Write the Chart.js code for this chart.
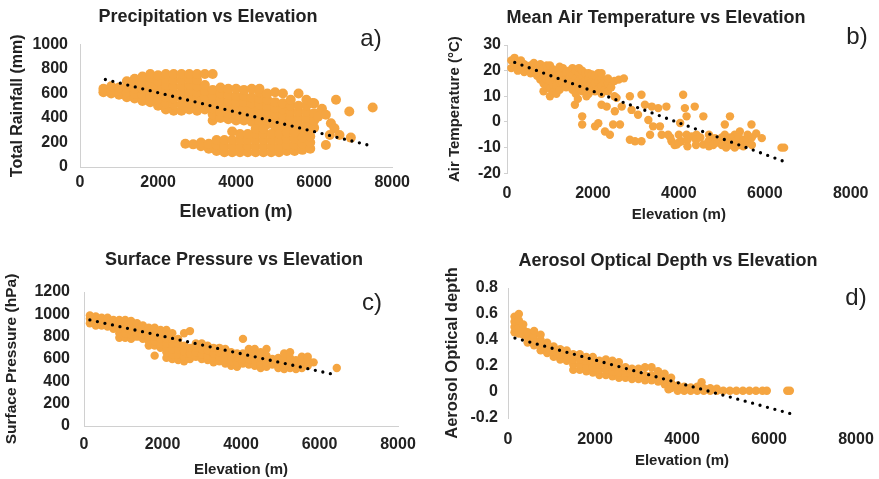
<!DOCTYPE html>
<html>
<head>
<meta charset="utf-8">
<script src="https://cdn.jsdelivr.net/npm/chart.js@4.4.1/dist/chart.umd.min.js"></script>
<style>
  html, body { margin: 0; padding: 0; background: #fff; overflow: hidden; }
  body { width: 879px; height: 479px; position: relative; }
  canvas { position: absolute; }
  .tag { position: absolute; transform: translate(-50%, -50%); font: 24px 'Liberation Sans', Arial, sans-serif; color: #222; }
</style>
</head>
<body>
<canvas id="chartA" width="416" height="240" style="left:0;top:0"></canvas>
<canvas id="chartB" width="446" height="240" style="left:433px;top:0"></canvas>
<canvas id="chartC" width="468" height="239" style="left:0;top:240px"></canvas>
<canvas id="chartD" width="456" height="239" style="left:440px;top:240px"></canvas>
<div class="tag" style="left:371px;top:38px">a)</div>
<div class="tag" style="left:857px;top:36px">b)</div>
<div class="tag" style="left:372px;top:302px">c)</div>
<div class="tag" style="left:856px;top:297px">d)</div>
<script>
// tick values
const elevTicks  = [0, 2000, 4000, 6000, 8000]
const rainTicks  = [0, 200, 400, 600, 800, 1000]
const tempTicks  = [-20, -10, 0, 10, 20, 30]
const presTicks  = [0, 200, 400, 600, 800, 1000, 1200]
const aodTicks   = [-0.2, 0, 0.2, 0.4, 0.6, 0.8]

// each row: [elevation, value, value, ...]
const rainCols = [
  [600, 610, 640], [800, 600, 630, 660], [1000, 590, 620, 650],
  [1200, 570, 610, 650, 700], [1400, 560, 600, 640, 680, 720],
  [1600, 540, 590, 640, 690, 740], [1800, 530, 580, 630, 680, 730, 760],
  [2000, 500, 550, 600, 650, 700, 750], [2200, 470, 520, 570, 620, 670, 720, 760],
  [2400, 460, 510, 560, 610, 660, 710, 760], [2600, 460, 510, 560, 610, 660, 710, 760],
  [2800, 470, 520, 570, 620, 670, 720, 760], [3000, 460, 510, 560, 610, 660, 710, 760],
  [3200, 470, 520, 570, 620, 670, 760], [3400, 380, 430, 480, 530, 580, 630, 760],
  [3600, 400, 450, 500, 550, 600, 650], [3800, 390, 440, 490, 540, 590, 640],
  [4000, 380, 430, 480, 530, 580, 640], [4200, 380, 430, 480, 530, 580, 630],
  [4400, 370, 420, 470, 520, 570, 640], [4600, 360, 410, 460, 510, 560, 610, 640],
  [4800, 350, 400, 450, 500, 550, 600], [5000, 330, 380, 430, 480, 530, 610],
  [5200, 320, 370, 420, 470, 520, 600], [5400, 300, 350, 400, 450, 500, 550],
  [5600, 300, 350, 400, 450, 500, 600], [5800, 300, 350, 400, 450, 500, 550],
  [6000, 320, 380, 440, 520],
  [2700, 190], [2900, 185], [3100, 170, 200], [3300, 150, 190], [3500, 130, 180, 220],
  [3700, 120, 170, 220], [3900, 120, 170, 220, 290], [4100, 120, 170, 220, 270],
  [4300, 120, 170, 220, 270], [4500, 120, 170, 220, 270, 310], [4700, 120, 170, 220, 270, 310],
  [4900, 120, 170, 220, 270], [5100, 120, 170, 220, 270], [5300, 130, 180, 230, 280],
  [5500, 130, 180, 230, 280], [5700, 140, 190, 240], [5900, 150, 200, 250],
  [5960, 522], [6100, 410], [6200, 475], [6300, 427, 180], [6400, 262], [6430, 358],
  [6520, 317], [6560, 549], [6650, 262], [6900, 454], [6940, 240], [7500, 486]
]
const rainTrend = [[650, 715], [7500, 170]]

const tempCols = [
  [100, 21, 24], [175, 22.5, 25], [250, 20, 23], [325, 21.5, 24], [400, 19.5, 22.5],
  [475, 21], [550, 19, 22], [625, 20.5, 23], [700, 18, 21], [775, 16.5, 19.5, 22.5],
  [850, 12, 15, 18, 21], [925, 13.5, 16.5, 19.5, 22], [1000, 10, 13, 16, 19, 22],
  [1075, 11.5, 14.5, 17.5, 20.5], [1150, 11, 14, 17, 20], [1225, 12.5, 15.5, 18.5, 21.5],
  [1300, 15, 18, 21], [1375, 13.5, 16.5, 19.5], [1450, 14, 17, 20],
  [1525, 12.5, 15.5, 18.5, 21], [1600, 11, 14, 17, 20], [1675, 13, 16, 19, 21],
  [1750, 12, 15, 18, 20], [1825, 13, 16, 19], [1900, 11, 14, 17, 19], [1975, 12.5, 15.5, 18.5],
  [2050, 12, 15, 18], [2125, 13, 16, 19], [2200, 11, 14, 17, 19], [2275, 12.5, 15.5],
  [2350, 12, 15, 17], [2425, 13.5], [2500, 10, 16],
  [2600, 16.5], [2720, 17], [1650, 9], [1850, 10],
  [1580, 6.7], [1750, 2.2, -1], [2050, -1.7], [2125, -0.5], [2280, -3.7], [2395, -5],
  [2470, -1], [2510, 4.2], [2200, 6.7], [2320, 6], [2670, 6], [2550, 9.4], [2860, 10, -6.9],
  [3130, 10.6, -7.5], [2900, 4.7], [2630, -1], [2980, -7.5], [3050, 2.8], [3210, 6.7],
  [3370, 6], [3520, 5.4], [3710, 6], [3290, 0.8], [3400, -1.7], [3560, -1.7], [3330, -5],
  [3600, -5], [3750, -5], [3830, -7.5], [3950, -8.8], [4060, -7.5], [4180, -5, 2.2],
  [4300, -5.6], [4410, -5], [4570, -8.8, 2.2], [4690, -7.5], [4840, -6.3], [4100, 10.6],
  [4140, 5.4], [4370, 6], [4030, -0.4], [5070, -1, -5], [5190, 2.2], [5300, -5],
  [5420, -3.7], [5690, -1], [5930, -6.3], [6390, -10], [6450, -10],
  [3800, -6], [3900, -9], [4000, -5, -8], [4200, -7, -9.5], [4400, -7, -9], [4500, -6],
  [4700, -5, -9.5], [4800, -9], [4900, -8], [5000, -6, -9], [5100, -7.5, -10], [5200, -6, -9],
  [5300, -7.5, -10], [5400, -6, -9], [5500, -7, -9.5], [5600, -5, -8], [5700, -6, -9], [5800, -4.5]
]
const tempTrend = [[180, 23.2], [6420, -15.2]]

const presCols = [
  [150, 920, 960, 990], [300, 900, 940, 980], [450, 900, 940, 970], [600, 890, 930, 970],
  [750, 870, 910, 950], [900, 790, 830, 870, 910, 950], [1050, 790, 830, 870, 910, 950],
  [1200, 780, 820, 860, 900, 940], [1350, 800, 840, 880, 920], [1500, 780, 820, 860, 900],
  [1650, 720, 760, 800, 840, 880], [1800, 630, 720, 760, 800, 840, 880],
  [1950, 700, 740, 780, 820, 860], [2100, 610, 660, 700, 740, 780, 820, 860],
  [2250, 600, 640, 690, 740, 780, 830], [2400, 590, 640, 690, 740, 780],
  [2550, 580, 620, 670, 720, 830], [2700, 600, 650, 700, 850], [2850, 620, 660, 700, 740],
  [3000, 600, 640, 690, 740], [3150, 590, 630, 680, 720], [3300, 570, 610, 650, 700],
  [3450, 580, 620, 660, 700], [3600, 560, 600, 640, 690], [3750, 540, 580, 620, 660],
  [3900, 530, 570, 610, 650], [4050, 560, 600, 650, 780], [4200, 550, 600, 640, 690],
  [4350, 540, 590, 640, 690], [4500, 520, 560, 610, 660], [4650, 530, 570, 630, 690],
  [4800, 550, 600], [4950, 520, 560, 610], [5100, 510, 550, 600, 650],
  [5250, 520, 560, 610, 660], [5400, 510, 550, 590], [5550, 520, 570, 620],
  [5700, 540, 590, 620], [5850, 570], [6440, 520]
]
const presTrend = [[150, 950], [6310, 466]]

const aodCols = [
  [150, 0.46, 0.5, 0.54, 0.58], [250, 0.45, 0.5, 0.55, 0.6], [350, 0.44, 0.48, 0.52],
  [450, 0.38, 0.42, 0.46], [600, 0.36, 0.4, 0.44, 0.47], [750, 0.32, 0.36, 0.4, 0.44],
  [900, 0.3, 0.34, 0.38], [1050, 0.27, 0.31, 0.35], [1200, 0.25, 0.29, 0.33],
  [1350, 0.24, 0.28, 0.32], [1500, 0.17, 0.21, 0.25, 0.29], [1650, 0.17, 0.21, 0.25, 0.29],
  [1800, 0.16, 0.2, 0.24, 0.27], [1950, 0.15, 0.19, 0.23, 0.27], [2100, 0.13, 0.17, 0.21, 0.24],
  [2250, 0.13, 0.17, 0.21, 0.25], [2400, 0.12, 0.16, 0.2, 0.24], [2550, 0.11, 0.15, 0.19, 0.23],
  [2700, 0.11, 0.15, 0.19], [2850, 0.1, 0.14, 0.18], [3000, 0.1, 0.14, 0.18],
  [3150, 0.09, 0.13, 0.19], [3300, 0.09, 0.13, 0.19], [3450, 0.08, 0.12, 0.16],
  [3600, 0.06, 0.1, 0.14], [3690, 0.02], [3750, 0.03, 0.07, 0.11],
  [3900, 0.01, 0.05], [4050, 0.01, 0.04], [4200, 0.01, 0.035], [4350, 0.01, 0.04],
  [4450, 0.075], [4500, 0.01, 0.03], [4650, 0.01, 0.03], [4800, 0.01, 0.025], [4950, 0.01],
  [5100, 0.01], [5250, 0.01], [5400, 0.01], [5550, 0.01], [5700, 0.01], [5850, 0.01],
  [5950, 0.01], [6420, 0.01], [6480, 0.01]
]
const aodTrend = [[160, 0.415], [6480, -0.165]]

const ORANGE = '#F5A541'
const AXIS   = '#d0d0d0'
const TEXT   = '#222'
const FAMILY = "'Liberation Sans', Arial, sans-serif"

const toPoints = cols => cols.flatMap(([x, ...ys]) => ys.map(y => ({ x: x, y: y })))
const plainNumber = v => String(+Number(v).toFixed(2))

const makePanel = (id, p) => {
  const ctx = document.getElementById(id).getContext('2d')
  new Chart(ctx, {
    type: 'scatter',
    data: {
      datasets: [
        {
          data: toPoints(p.trend),
          showLine: true,
          borderColor: '#000',
          borderWidth: 3.3,
          borderDash: [0, 7.7],
          borderCapStyle: 'round',
          pointRadius: 0,
          order: 0,
          clip: false
        },
        {
          data: toPoints(p.cols),
          backgroundColor: ORANGE,
          borderWidth: 0,
          pointRadius: p.radius,
          order: 1,
          clip: false
        }
      ]
    },
    options: {
      responsive: false,
      animation: false,
      layout: { padding: 0 },
      plugins: {
        legend: { display: false },
        tooltip: { enabled: false },
        title: {
          display: true,
          text: p.title,
          color: TEXT,
          font: { family: FAMILY, size: 18, weight: 'bold' },
          padding: { top: p.titleTop, bottom: p.titleBottom }
        }
      },
      scales: {
        x: {
          type: 'linear',
          min: elevTicks[0],
          max: elevTicks[elevTicks.length - 1],
          afterFit: s => { s.height = p.xHeight },
          ticks: { stepSize: elevTicks[1] - elevTicks[0], padding: p.xPad, color: TEXT,
                   callback: plainNumber,
                   font: { family: FAMILY, size: 16, weight: 'bold' } },
          grid: { display: false, drawTicks: false },
          border: { display: p.xBorder, color: AXIS, width: 1 },
          title: { display: true, text: 'Elevation (m)', color: TEXT,
                   font: { family: FAMILY, size: p.xTitleSize, weight: 'bold' },
                   padding: { top: 0, bottom: p.xTitlePad } }
        },
        y: {
          type: 'linear',
          min: p.yTicks[0],
          max: p.yTicks[p.yTicks.length - 1],
          afterFit: s => { s.width = p.yWidth },
          ticks: { stepSize: p.yTicks[1] - p.yTicks[0], padding: p.yPad, color: TEXT,
                   callback: plainNumber,
                   font: { family: FAMILY, size: 16, weight: 'bold' } },
          grid: p.yTickMarks
            ? { display: true, drawOnChartArea: false, drawTicks: true, tickLength: 3, color: AXIS }
            : { display: false, drawTicks: false },
          border: { display: true, color: AXIS, width: 1 },
          title: { display: true, text: p.yTitle, color: TEXT,
                   font: { family: FAMILY, size: p.yTitleSize, weight: 'bold' },
                   padding: { top: p.yTitlePad, bottom: 0 } }
        },
        // empty box on the right so the chart title stays centred on the whole panel
        spacer: {
          type: 'linear',
          position: 'right',
          display: true,
          afterFit: s => { s.width = p.padRight },
          ticks: { display: false },
          grid: { display: false, drawTicks: false },
          border: { display: false },
          title: { display: false }
        }
      }
    }
  })
}

makePanel('chartA', {
  title: 'Precipitation vs Elevation', titleTop: 6, titleBottom: 17, radius: 5,
  cols: rainCols, trend: rainTrend, yTicks: rainTicks, yTitle: 'Total Rainfall (mm)',
  padRight: 23, yWidth: 80, yPad: 12, yTitleSize: 16, yTitlePad: 8, yTickMarks: false,
  xHeight: 73, xPad: 6, xTitleSize: 18, xTitlePad: 17, xBorder: true
})

makePanel('chartB', {
  title: 'Mean Air Temperature vs Elevation', titleTop: 7, titleBottom: 16.4, radius: 4.2,
  cols: tempCols, trend: tempTrend, yTicks: tempTicks, yTitle: 'Air Temperature (°C)',
  padRight: 28, yWidth: 74, yPad: 3, yTitleSize: 15, yTitlePad: 13, yTickMarks: true,
  xHeight: 66.7, xPad: 10.5, xTitleSize: 15, xTitlePad: 16, xBorder: false
})

makePanel('chartC', {
  title: 'Surface Pressure vs Elevation', titleTop: 9.7, titleBottom: 20.7, radius: 4.2,
  cols: presCols, trend: presTrend, yTicks: presTicks, yTitle: 'Surface Pressure (hPa)',
  padRight: 70, yWidth: 84, yPad: 14, yTitleSize: 15.5, yTitlePad: 2.7, yTickMarks: false,
  xHeight: 53, xPad: 9.3, xTitleSize: 15, xTitlePad: 0, xBorder: true
})

makePanel('chartD', {
  title: 'Aerosol Optical Depth vs Elevation', titleTop: 10.7, titleBottom: 15.7, radius: 4.2,
  cols: aodCols, trend: aodTrend, yTicks: aodTicks, yTitle: 'Aerosol Optical depth',
  padRight: 40, yWidth: 68, yPad: 10, yTitleSize: 16.5, yTitlePad: 3, yTickMarks: false,
  xHeight: 61, xPad: 12.3, xTitleSize: 15, xTitlePad: 9, xBorder: false
})
</script>
</body>
</html>
